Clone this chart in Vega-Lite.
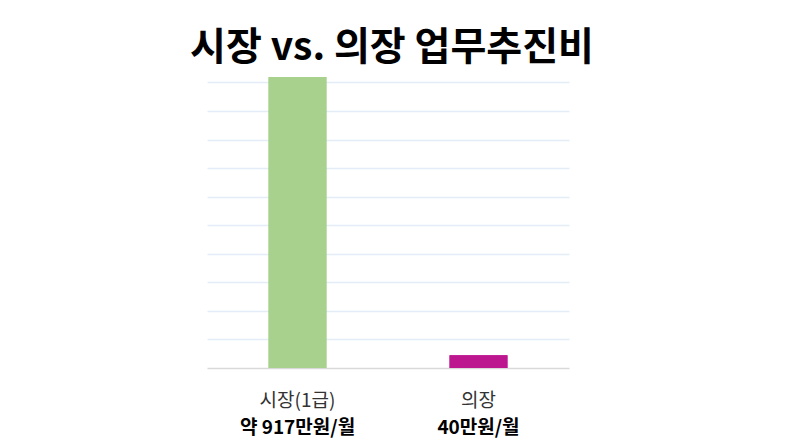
{
  "$schema": "https://vega.github.io/schema/vega-lite/v6.json",
  "description": "시장 vs. 의장 업무추진비 (만원/월)",
  "width": 362,
  "height": 291,
  "autosize": {"type": "none"},
  "padding": {"left": 207, "top": 77, "right": 221, "bottom": 78},
  "background": "white",
  "view": {"stroke": null},
  "title": {
    "text": "시장 vs. 의장 업무추진비",
    "font": "Noto Sans CJK KR",
    "fontSize": 39,
    "fontWeight": "bold",
    "color": "black",
    "offset": 9,
    "dx": 4
  },
  "data": {
    "values": [
      {"직책": "시장(1급)", "업무추진비": "약 917만원/월", "만원": 917},
      {"직책": "의장", "업무추진비": "40만원/월", "만원": 40}
    ]
  },
  "encoding": {
    "y": {
      "field": "만원",
      "type": "quantitative",
      "scale": {"domain": [0, 917], "nice": false},
      "axis": {
        "title": null,
        "labels": false,
        "ticks": false,
        "domain": false,
        "values": [0, 90, 180, 270, 360, 450, 540, 630, 720, 810, 900],
        "gridColor": {"condition": {"test": "datum.value === 0", "value": "#d9d9d9"}, "value": "#e4edf7"},
        "gridWidth": 1.3
      }
    },
    "color": {
      "field": "직책",
      "type": "nominal",
      "sort": null,
      "scale": {"range": ["#a9d18e", "#bd1790"]},
      "legend": null
    }
  },
  "layer": [
    {
      "mark": {"type": "bar"},
      "encoding": {
        "x": {
          "field": "직책",
          "type": "nominal",
          "sort": null,
          "scale": {"paddingInner": 0.68, "paddingOuter": 0.34},
          "axis": {
            "orient": "bottom",
            "title": null,
            "labelAngle": 0,
            "domain": false,
            "ticks": false,
            "grid": false,
            "labelFont": "Noto Sans CJK KR",
            "labelFontSize": 19,
            "labelColor": "#333333",
            "labelPadding": 23
          }
        }
      }
    },
    {
      "mark": {"type": "bar"},
      "encoding": {
        "x": {
          "field": "업무추진비",
          "type": "nominal",
          "sort": null,
          "scale": {"paddingInner": 0.68, "paddingOuter": 0.34},
          "axis": {
            "orient": "bottom",
            "title": null,
            "labelAngle": 0,
            "domain": false,
            "ticks": false,
            "grid": false,
            "labelFont": "Noto Sans CJK KR",
            "labelFontSize": 19,
            "labelFontWeight": "bold",
            "labelColor": "black",
            "labelPadding": 50
          }
        }
      }
    }
  ],
  "resolve": {"scale": {"x": "independent"}, "axis": {"x": "independent"}}
}
